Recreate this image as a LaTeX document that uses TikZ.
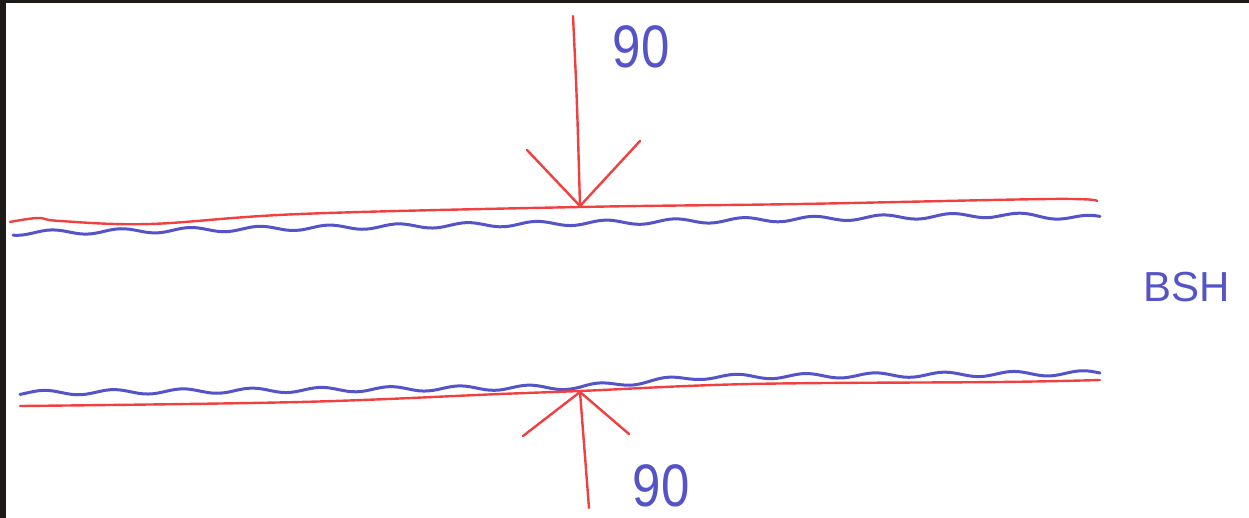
\documentclass[tikz,border=0pt]{standalone}
\usepackage{fontspec}
\setmainfont{Liberation Sans}
\definecolor{pen red}{HTML}{F04040}
\definecolor{pen blue}{HTML}{5454C8}
\definecolor{desk}{HTML}{1E1A18}
\tikzset{
  redline/.style={draw=pen red, line width=2.4pt, line cap=round, line join=round},
  blueline/.style={draw=pen blue, line width=3pt, line cap=round, line join=round},
  label90/.style={text=pen blue, font=\fontsize{60}{60}\selectfont, inner sep=0pt, xscale=0.85},
  labelbsh/.style={text=pen blue, font=\fontsize{42}{42}\selectfont, inner sep=0pt}
}
\begin{document}
\begin{tikzpicture}[x=1pt, y=-1pt]
\useasboundingbox (0,0) rectangle (1249,518);
\fill[white] (0,0) rectangle (1249,518);
\fill[desk] (0,0) rectangle (6,518);
\fill[desk] (0,0) rectangle (1249,3);

% top plate
\draw[redline] plot[smooth, tension=0.6] coordinates {(10,222) (38,218) (60,221) (150,224) (300,214) (580,207) (800,204) (1050,199) (1097,201)};
\foreach \xa/\ya/\xb/\yb in {13/233/300/228, 300/228/580/223, 580/223/800/219, 800/219/1000/215, 1000/215/1100/218}
  \draw[blueline] plot[domain=\xa:\xb, samples=60, variable=\t] (\t, {\ya+(\yb-\ya)*(\t-\xa)/(\xb-\xa) + 2.4*sin(\t*5.2)});

% bottom plate
\foreach \xa/\ya/\xb/\yb in {20/393/300/390, 300/390/580/387, 580/387/700/377, 700/377/1000/374, 1000/374/1100/373}
  \draw[blueline] plot[domain=\xa:\xb, samples=60, variable=\t] (\t, {\ya+(\yb-\ya)*(\t-\xa)/(\xb-\xa) + 2.4*sin(\t*5.2+40)});
\draw[redline] plot[smooth, tension=0.6] coordinates {(20,406) (300,402) (500,394) (580,391) (750,384) (1000,382) (1100,380)};

% top arrow
\coordinate (t0) at (573,16);
\coordinate (t1) at (580,206);
\coordinate (tl) at (527,150);
\coordinate (tr) at (640,141);
\draw[redline] (t0) .. controls (577,100) .. (t1);
\draw[redline] (tl) -- (t1) -- (tr);

% bottom arrow
\coordinate (b0) at (589,508);
\coordinate (b1) at (580,392);
\coordinate (bl) at (523,436);
\coordinate (br) at (629,434);
\draw[redline] (b0) -- (b1);
\draw[redline] (bl) -- (b1) -- (br);

\node[label90] (n90top) at (641,47) {90};
\node[label90] (n90bot) at (661,486) {90};
\node[labelbsh] (bsh) at (1187,287) {BSH};
\end{tikzpicture}
\end{document}
